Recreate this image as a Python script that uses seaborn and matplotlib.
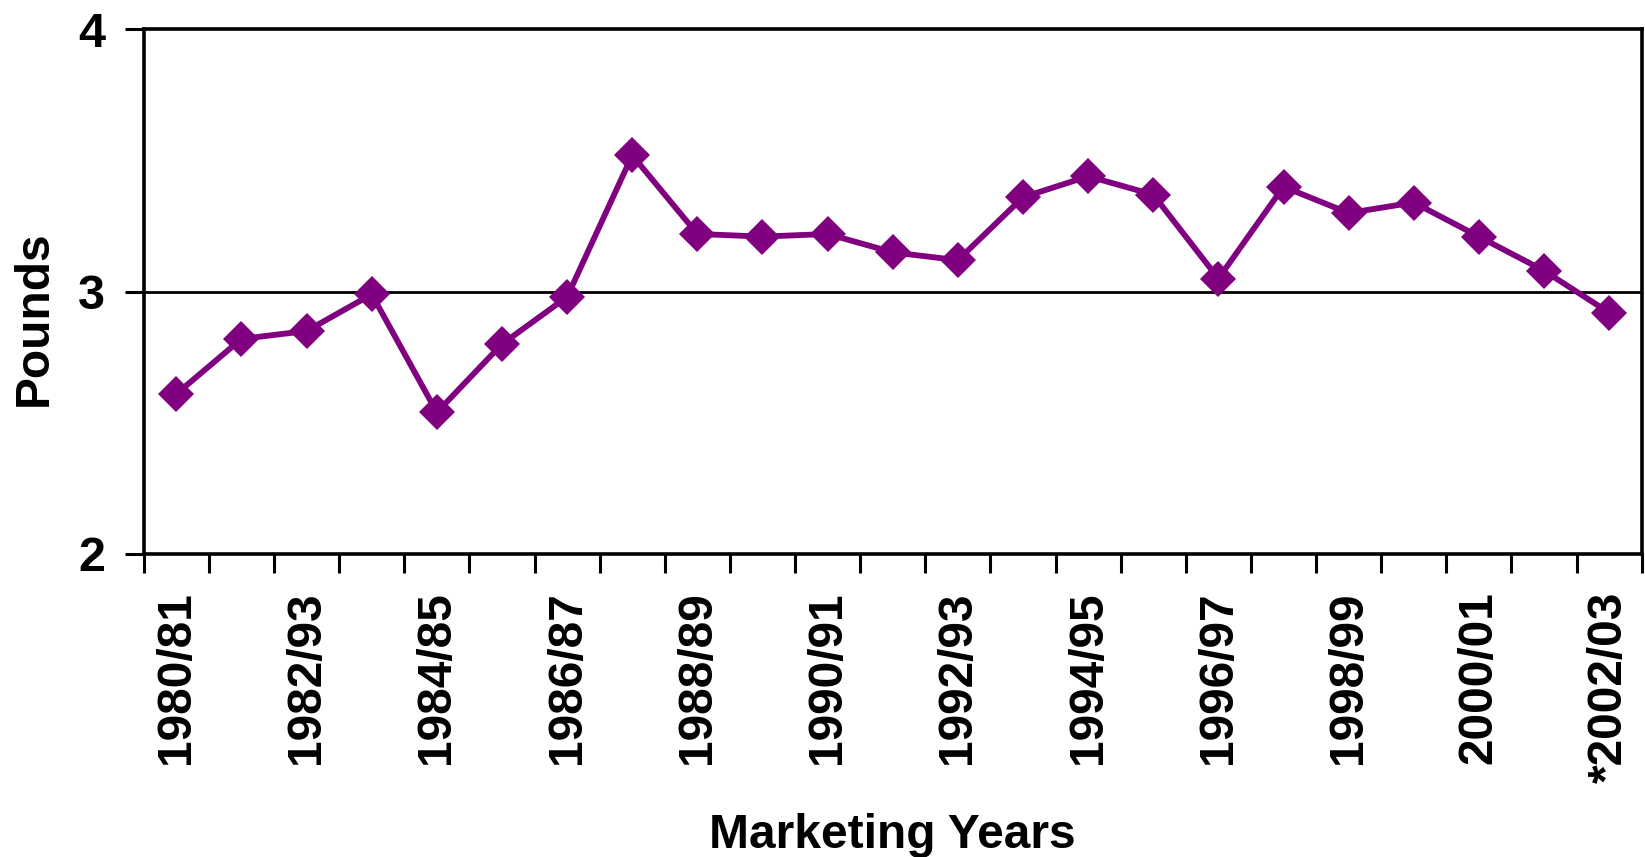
import numpy as np
import pandas as pd
import matplotlib
matplotlib.use("Agg")
import matplotlib.pyplot as plt
import seaborn as sns

years = ["1980/81", "1981/82", "1982/93", "1983/84", "1984/85", "1985/86",
         "1986/87", "1987/88", "1988/89", "1989/90", "1990/91", "1991/92",
         "1992/93", "1993/94", "1994/95", "1995/96", "1996/97", "1997/98",
         "1998/99", "1999/00", "2000/01", "2001/02", "*2002/03"]
pounds = [2.61, 2.82, 2.85, 2.99, 2.54, 2.80, 2.98, 3.52, 3.22, 3.21, 3.22, 3.15,
          3.12, 3.36, 3.44, 3.37, 3.05, 3.40, 3.30, 3.34, 3.21, 3.08, 2.92]
y_ticks = [2, 3, 4]

sns.set_style("white")
plt.rcParams['font.family'] = ['Liberation Sans', 'DejaVu Sans']
plt.rcParams['font.weight'] = 'bold'
plt.rcParams['text.color'] = 'black'
plt.rcParams['axes.labelcolor'] = 'black'
plt.rcParams['xtick.color'] = 'black'
plt.rcParams['ytick.color'] = 'black'

df = pd.DataFrame({"year": years, "pounds": pounds})

fig = plt.figure(figsize=(16.45, 8.57), dpi=100)
ax = fig.add_axes([0.0874, 0.3536, 0.9106, 0.6121])

sns.lineplot(data=df, x="year", y="pounds", sort=False, ax=ax,
             color="#800080", linewidth=4.2, marker="D", markersize=18,
             markeredgewidth=0)

ax.set_ylim(2, 4)
ax.set_xlim(-0.5, len(years) - 0.5)
ax.set_yticks(y_ticks)
ax.set_yticklabels([str(v) for v in y_ticks], fontsize=35, fontweight='bold')
ax.axhline(3, color="black", linewidth=2, zorder=1)

# tick marks on category boundaries, labels on every other category
ax.set_xticks(np.arange(-0.5, len(years), 1.0))
ax.set_xticklabels([])
ax.set_xticks(np.arange(0, len(years), 2), minor=True)
ax.set_xticklabels(years[::2], minor=True, rotation=90, fontsize=34.5,
                   fontweight='bold')
ax.tick_params(axis='x', which='major', direction='out', length=14, width=2.2,
               color='black', bottom=True)
ax.tick_params(axis='x', which='minor', length=0, pad=27)
ax.tick_params(axis='y', direction='out', length=14, width=2.2, color='black',
               left=True, pad=14)

for s in ax.spines.values():
    s.set_color("black")
    s.set_linewidth(2.6)

ax.set_xlabel("Marketing Years", fontsize=34.5, fontweight='bold', labelpad=22)
ax.set_ylabel("Pounds", fontsize=34.5, fontweight='bold')
ax.yaxis.set_label_coords(-0.058, 0.45)

fig.savefig("out.png", dpi=100, facecolor="white")
